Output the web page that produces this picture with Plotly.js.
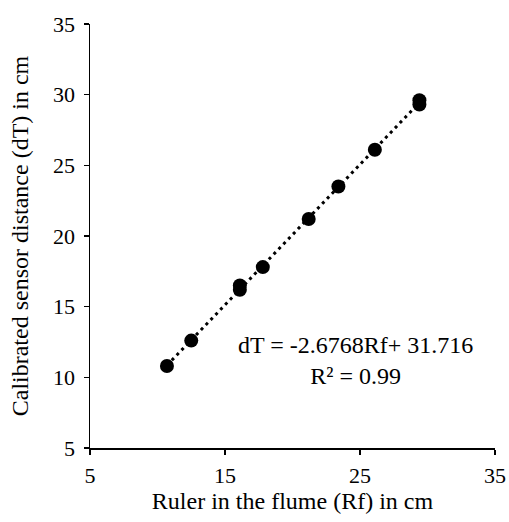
<!DOCTYPE html>
<html>
<head>
<meta charset="utf-8">
<script src="https://cdn.plot.ly/plotly-3.0.1.min.js"></script>
<style>html,body{margin:0;padding:0;background:#fff;}#chart{width:509px;height:522px;}</style>
</head>
<body>
<div id="chart"></div>
<script>
// Data
const rulerRf = [10.7, 12.5, 16.1, 16.1, 17.8, 21.2, 23.4, 26.1, 29.4, 29.4];
const sensorDT = [10.8, 12.6, 16.2, 16.5, 17.8, 21.2, 23.5, 26.1, 29.3, 29.6];
const xTitle = 'Ruler in the flume (Rf) in cm';
const yTitle = 'Calibrated sensor distance (dT) in cm';
const equationText = 'dT = -2.6768Rf+ 31.716';
const r2Text = 'R² = 0.99';

// Least squares trendline computed from the data
const n = rulerRf.length;
const mx = rulerRf.reduce((a, b) => a + b, 0) / n;
const my = sensorDT.reduce((a, b) => a + b, 0) / n;
let sxy = 0, sxx = 0;
for (let i = 0; i < n; i++) { sxy += (rulerRf[i] - mx) * (sensorDT[i] - my); sxx += (rulerRf[i] - mx) ** 2; }
const slope = sxy / sxx, intercept = my - slope * mx;
const xMin = Math.min(...rulerRf), xMax = Math.max(...rulerRf);
const trendX = [xMin, xMax];
const trendY = trendX.map(v => slope * v + intercept);

const fam = '"Liberation Serif", "Times New Roman", serif';
const tickFont = {family: fam, size: 22, color: '#000'};
const titleFont = {family: fam, size: 24, color: '#000'};

const traces = [
  {x: trendX, y: trendY, mode: 'lines', type: 'scatter',
   line: {color: '#000', width: 3, dash: '3px,4px'}, hoverinfo: 'skip'},
  {x: rulerRf, y: sensorDT, mode: 'markers', type: 'scatter',
   marker: {color: '#000', size: 14}}
];

const axisCommon = {
  range: [5, 35], showgrid: false, zeroline: false, showline: true,
  linecolor: '#000', linewidth: 1.5, ticks: 'outside', ticklen: 5,
  tickcolor: '#000', tickwidth: 1.5, tickfont: tickFont
};

const layout = {
  width: 509, height: 522,
  margin: {l: 90, r: 14, t: 24, b: 74},
  paper_bgcolor: '#fff', plot_bgcolor: '#fff',
  showlegend: false,
  font: titleFont,
  xaxis: Object.assign({}, axisCommon, {tick0: 5, dtick: 10, ticklabelstandoff: 2,
    title: {text: xTitle, font: titleFont, standoff: 4}}),
  yaxis: Object.assign({}, axisCommon, {tick0: 5, dtick: 5, ticklabelstandoff: 4,
    title: {text: yTitle, font: titleFont, standoff: 17}}),
  annotations: [{
    xref: 'paper', yref: 'paper', x: 0.655, y: 0.206,
    xanchor: 'center', yanchor: 'middle', align: 'center',
    text: equationText + '<br>' + r2Text, showarrow: false,
    font: titleFont
  }]
};

Plotly.newPlot('chart', traces, layout, {displayModeBar: false, staticPlot: true});
</script>
</body>
</html>
